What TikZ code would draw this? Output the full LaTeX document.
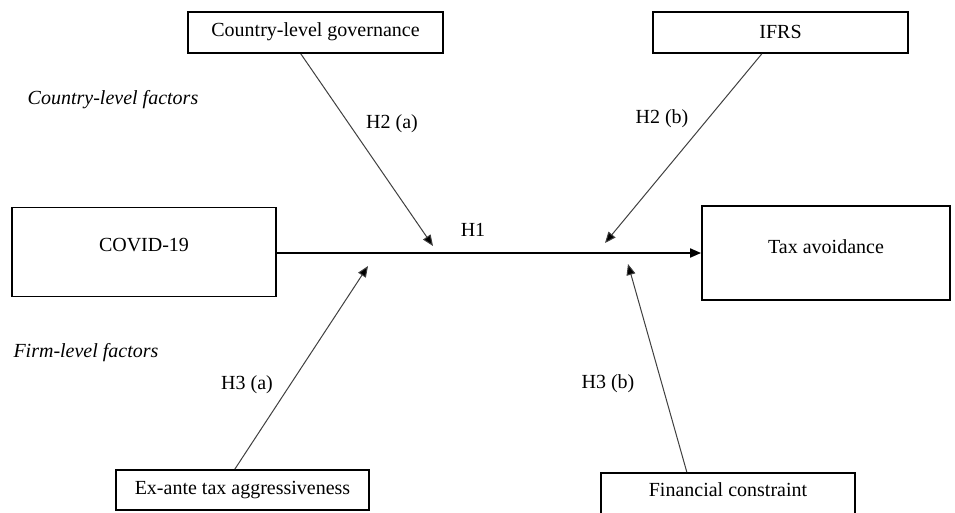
\documentclass[tikz,border=0pt]{standalone}
\usepackage{fontspec}
\setmainfont{Liberation Serif}
\usetikzlibrary{arrows.meta,calc}
\tikzset{
  x=1pt,y=-1pt,
  box/.style={draw=black,line width=1.8pt,rectangle,inner sep=0pt},
  lbl/.style={font=\fontsize{20}{24}\selectfont,inner sep=0pt},
  fact/.style={font=\fontsize{20}{24}\selectfont\itshape,inner sep=0pt},
  mainarr/.style={line width=1.8pt,-{Triangle[length=11pt,width=9pt]}},
  sidearr/.style={draw=black!75,line width=1pt,-{Triangle[length=11pt,width=9pt,fill=black]}},
}
\begin{document}
\begin{tikzpicture}
\useasboundingbox[fill=white] (0,0) rectangle (955,512);
% boxes
\node[box,minimum width=255pt,minimum height=41pt] (cg) at (315.5,32.5) {};
\node[lbl] (cgt) at (315.5,32) {Country-level governance};
\node[box,minimum width=255pt,minimum height=41pt] (ifrs) at (780.5,32.5) {};
\node[lbl] (ifrst) at (780.5,32) {IFRS};
\node[box,minimum width=264pt,minimum height=89pt] (covid) at (144,252) {};
\node[lbl] (covidt) at (144,245) {COVID-19};
\node[box,minimum width=248pt,minimum height=94pt] (tax) at (826,253) {};
\node[lbl] (taxt) at (826,247) {Tax avoidance};
\node[box,minimum width=253pt,minimum height=40pt] (exa) at (242.5,490) {};
\node[lbl] (exat) at (242.5,490) {Ex-ante tax aggressiveness};
\node[box,minimum width=254pt,minimum height=50pt] (fin) at (728,498) {};
\node[lbl] (fint) at (728,490) {Financial constraint};
% free ends
\coordinate (e1) at (433,246);
\coordinate (e2) at (605,243);
\coordinate (e3) at (368,266);
\coordinate (e4) at (628,264);
% main arrow
\draw[mainarr] (covid.east |- 0,253) -- (tax.west |- 0,253);
% side arrows
\draw[sidearr] ($(cg.south west)!0.443!(cg.south east)$) -- (e1);
\draw[sidearr] ($(ifrs.south west)!0.427!(ifrs.south east)$) -- (e2);
\draw[sidearr] ($(exa.north west)!0.470!(exa.north east)$) -- (e3);
\draw[sidearr] ($(fin.north west)!0.339!(fin.north east)$) -- (e4);
% labels
\node[lbl] (h1) at (473,230) {H1};
\node[lbl] (h2a) at (392,124) {H2 (a)};
\node[lbl] (h2b) at (662,119) {H2 (b)};
\node[lbl] (h3a) at (247,385) {H3 (a)};
\node[lbl] (h3b) at (608,384) {H3 (b)};
\node[fact] (cf) at (113,100) {Country-level factors};
\node[fact] (ff) at (86,353) {Firm-level factors};
\end{tikzpicture}
\end{document}
